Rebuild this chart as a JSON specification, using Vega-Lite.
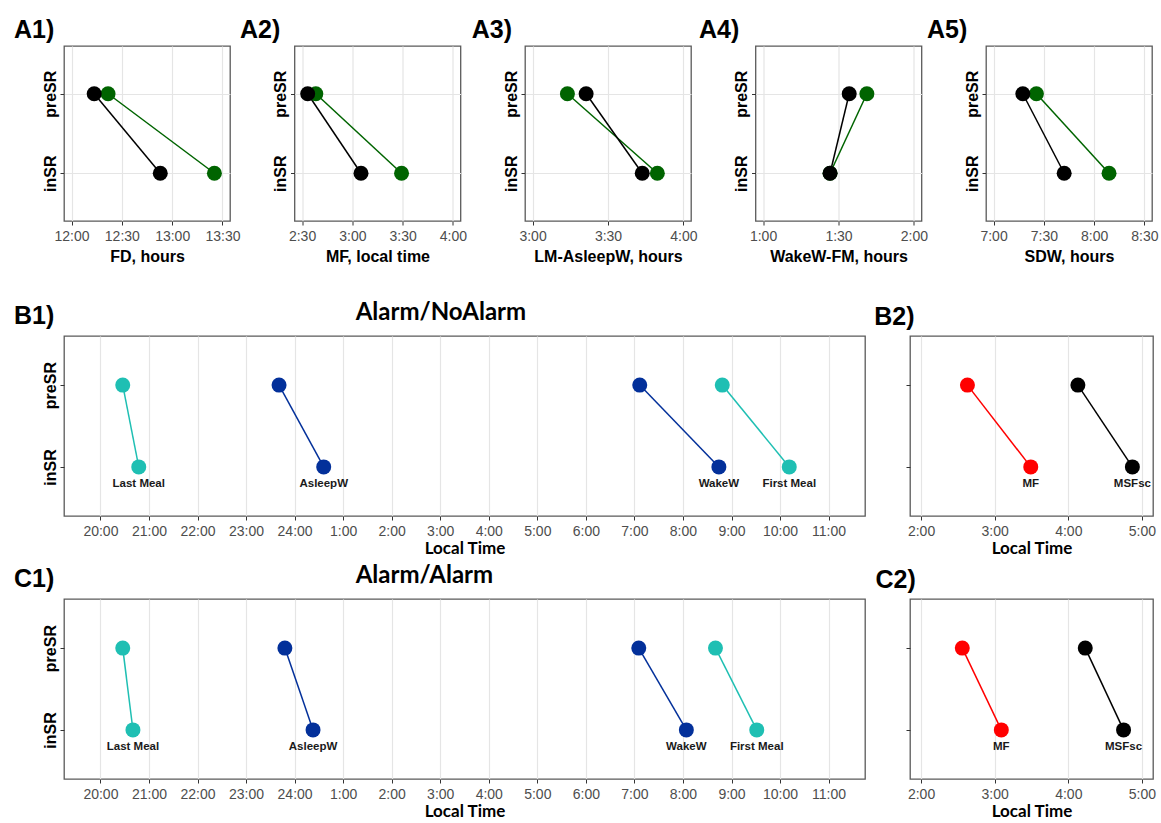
{
  "$schema": "https://vega.github.io/schema/vega-lite/v6.json",
  "padding": {"left": 13, "top": 17, "right": 0, "bottom": 0},
  "background": "white",
  "datasets": {
    "A1": [
      {"group": "Alarm/Alarm", "cond": "preSR", "t": 12.363},
      {"group": "Alarm/Alarm", "cond": "inSR", "t": 13.42},
      {"group": "Alarm/NoAlarm", "cond": "preSR", "t": 12.225},
      {"group": "Alarm/NoAlarm", "cond": "inSR", "t": 12.882}
    ],
    "A2": [
      {"group": "Alarm/Alarm", "cond": "preSR", "t": 2.637},
      {"group": "Alarm/Alarm", "cond": "inSR", "t": 3.489},
      {"group": "Alarm/NoAlarm", "cond": "preSR", "t": 2.556},
      {"group": "Alarm/NoAlarm", "cond": "inSR", "t": 3.086}
    ],
    "A3": [
      {"group": "Alarm/Alarm", "cond": "preSR", "t": 3.231},
      {"group": "Alarm/Alarm", "cond": "inSR", "t": 3.827},
      {"group": "Alarm/NoAlarm", "cond": "preSR", "t": 3.355},
      {"group": "Alarm/NoAlarm", "cond": "inSR", "t": 3.727}
    ],
    "A4": [
      {"group": "Alarm/Alarm", "cond": "preSR", "t": 1.688},
      {"group": "Alarm/Alarm", "cond": "inSR", "t": 1.444},
      {"group": "Alarm/NoAlarm", "cond": "preSR", "t": 1.571},
      {"group": "Alarm/NoAlarm", "cond": "inSR", "t": 1.444}
    ],
    "A5": [
      {"group": "Alarm/Alarm", "cond": "preSR", "t": 7.426},
      {"group": "Alarm/Alarm", "cond": "inSR", "t": 8.148},
      {"group": "Alarm/NoAlarm", "cond": "preSR", "t": 7.291},
      {"group": "Alarm/NoAlarm", "cond": "inSR", "t": 7.702}
    ],
    "B1": [
      {"group": "Last Meal", "cond": "preSR", "t": 20.46},
      {"group": "Last Meal", "cond": "inSR", "t": 20.79},
      {"group": "AsleepW", "cond": "preSR", "t": 23.68},
      {"group": "AsleepW", "cond": "inSR", "t": 24.6},
      {"group": "WakeW", "cond": "preSR", "t": 31.11},
      {"group": "WakeW", "cond": "inSR", "t": 32.74},
      {"group": "First Meal", "cond": "preSR", "t": 32.81},
      {"group": "First Meal", "cond": "inSR", "t": 34.19}
    ],
    "B2": [
      {"group": "MF", "cond": "preSR", "t": 2.63},
      {"group": "MF", "cond": "inSR", "t": 3.49},
      {"group": "MSFsc", "cond": "preSR", "t": 4.13},
      {"group": "MSFsc", "cond": "inSR", "t": 4.87}
    ],
    "C1": [
      {"group": "Last Meal", "cond": "preSR", "t": 20.46},
      {"group": "Last Meal", "cond": "inSR", "t": 20.67},
      {"group": "AsleepW", "cond": "preSR", "t": 23.8},
      {"group": "AsleepW", "cond": "inSR", "t": 24.38},
      {"group": "WakeW", "cond": "preSR", "t": 31.09},
      {"group": "WakeW", "cond": "inSR", "t": 32.07},
      {"group": "First Meal", "cond": "preSR", "t": 32.67},
      {"group": "First Meal", "cond": "inSR", "t": 33.52}
    ],
    "C2": [
      {"group": "MF", "cond": "preSR", "t": 2.56},
      {"group": "MF", "cond": "inSR", "t": 3.09},
      {"group": "MSFsc", "cond": "preSR", "t": 4.23},
      {"group": "MSFsc", "cond": "inSR", "t": 4.75}
    ]
  },
  "config": {
    "font": "Liberation Sans",
    "view": {"stroke": "#5a5a5a", "strokeWidth": 1.3},
    "axis": {
      "domain": false, "tickSize": 4, "tickColor": "#333333", "tickWidth": 1,
      "labelPadding": 4, "labelFont": "Liberation Sans", "labelFontSize": 14, "labelColor": "#4d4d4d",
      "gridColor": "#e5e5e5", "gridWidth": 1.2, "labelFlush": false, "labelOverlap": false,
      "titleFont": "Liberation Sans", "titleFontSize": 16, "titleFontWeight": "bold", "titleColor": "#000000", "titlePadding": 5
    },
    "axisY": {"labelAngle": -90, "labelAlign": "center", "labelBaseline": "bottom", "labelFontSize": 16, "labelFontWeight": "bold", "labelColor": "#000000", "labelPadding": 2},
    "title": {"font": "Liberation Sans", "fontSize": 25, "fontWeight": "bold", "color": "#000000", "anchor": "start", "frame": "group"},
    "line": {"strokeWidth": 1.5},
    "point": {"filled": true, "size": 225, "opacity": 1}
  },
  "spacing": 35,
  "vconcat": [
    {
      "bounds": "flush",
      "spacing": 64.5,
      "hconcat": [
        {
          "width": 166, "height": 175,
          "title": {"text": "A1)", "dx": -50, "offset": 3},
          "data": {"name": "A1"},
          "encoding": {
            "x": {"field": "t", "type": "quantitative", "scale": {"domain": [11.925, 13.575], "nice": false, "zero": false},
              "axis": {"values": [12, 12.5, 13, 13.5], "labelExpr": "floor(datum.value) + ':' + (datum.value % 1 == 0 ? '00' : '30')", "title": "FD, hours"}},
            "y": {"field": "cond", "type": "nominal", "scale": {"type": "point", "domain": ["preSR", "inSR"], "padding": 0.6}, "axis": {"grid": true, "title": null}},
            "color": {"field": "group", "type": "nominal", "legend": null, "scale": {"domain": ["Alarm/Alarm", "Alarm/NoAlarm", "Last Meal", "AsleepW", "WakeW", "First Meal", "MF", "MSFsc"], "range": ["#006400", "#000000", "#1fbfb3", "#03309a", "#03309a", "#1fbfb3", "#ff0000", "#000000"]}}
          },
          "layer": [{"mark": "line"}, {"mark": "point"}]
        },
        {
          "width": 166, "height": 175,
          "title": {"text": "A2)", "dx": -54.5, "offset": 3},
          "data": {"name": "A2"},
          "encoding": {
            "x": {"field": "t", "type": "quantitative", "scale": {"domain": [2.425, 4.075], "nice": false, "zero": false},
              "axis": {"values": [2.5, 3, 3.5, 4], "labelExpr": "floor(datum.value) + ':' + (datum.value % 1 == 0 ? '00' : '30')", "title": "MF, local time"}},
            "y": {"field": "cond", "type": "nominal", "scale": {"type": "point", "domain": ["preSR", "inSR"], "padding": 0.6}, "axis": {"grid": true, "title": null}},
            "color": {"field": "group", "type": "nominal", "legend": null, "scale": {"domain": ["Alarm/Alarm", "Alarm/NoAlarm", "Last Meal", "AsleepW", "WakeW", "First Meal", "MF", "MSFsc"], "range": ["#006400", "#000000", "#1fbfb3", "#03309a", "#03309a", "#1fbfb3", "#ff0000", "#000000"]}}
          },
          "layer": [{"mark": "line"}, {"mark": "point"}]
        },
        {
          "width": 166, "height": 175,
          "title": {"text": "A3)", "dx": -53.3, "offset": 3},
          "data": {"name": "A3"},
          "encoding": {
            "x": {"field": "t", "type": "quantitative", "scale": {"domain": [2.95, 4.05], "nice": false, "zero": false},
              "axis": {"values": [3, 3.5, 4], "labelExpr": "floor(datum.value) + ':' + (datum.value % 1 == 0 ? '00' : '30')", "title": "LM-AsleepW, hours"}},
            "y": {"field": "cond", "type": "nominal", "scale": {"type": "point", "domain": ["preSR", "inSR"], "padding": 0.6}, "axis": {"grid": true, "title": null}},
            "color": {"field": "group", "type": "nominal", "legend": null, "scale": {"domain": ["Alarm/Alarm", "Alarm/NoAlarm", "Last Meal", "AsleepW", "WakeW", "First Meal", "MF", "MSFsc"], "range": ["#006400", "#000000", "#1fbfb3", "#03309a", "#03309a", "#1fbfb3", "#ff0000", "#000000"]}}
          },
          "layer": [{"mark": "line"}, {"mark": "point"}]
        },
        {
          "width": 166, "height": 175,
          "title": {"text": "A4)", "dx": -56.5, "offset": 3},
          "data": {"name": "A4"},
          "encoding": {
            "x": {"field": "t", "type": "quantitative", "scale": {"domain": [0.95, 2.05], "nice": false, "zero": false},
              "axis": {"values": [1, 1.5, 2], "labelExpr": "floor(datum.value) + ':' + (datum.value % 1 == 0 ? '00' : '30')", "title": "WakeW-FM, hours"}},
            "y": {"field": "cond", "type": "nominal", "scale": {"type": "point", "domain": ["preSR", "inSR"], "padding": 0.6}, "axis": {"grid": true, "title": null}},
            "color": {"field": "group", "type": "nominal", "legend": null, "scale": {"domain": ["Alarm/Alarm", "Alarm/NoAlarm", "Last Meal", "AsleepW", "WakeW", "First Meal", "MF", "MSFsc"], "range": ["#006400", "#000000", "#1fbfb3", "#03309a", "#03309a", "#1fbfb3", "#ff0000", "#000000"]}}
          },
          "layer": [{"mark": "line"}, {"mark": "point"}]
        },
        {
          "width": 166, "height": 175,
          "title": {"text": "A5)", "dx": -59, "offset": 3},
          "data": {"name": "A5"},
          "encoding": {
            "x": {"field": "t", "type": "quantitative", "scale": {"domain": [6.925, 8.575], "nice": false, "zero": false},
              "axis": {"values": [7, 7.5, 8, 8.5], "labelExpr": "floor(datum.value) + ':' + (datum.value % 1 == 0 ? '00' : '30')", "title": "SDW, hours"}},
            "y": {"field": "cond", "type": "nominal", "scale": {"type": "point", "domain": ["preSR", "inSR"], "padding": 0.6}, "axis": {"grid": true, "title": null}},
            "color": {"field": "group", "type": "nominal", "legend": null, "scale": {"domain": ["Alarm/Alarm", "Alarm/NoAlarm", "Last Meal", "AsleepW", "WakeW", "First Meal", "MF", "MSFsc"], "range": ["#006400", "#000000", "#1fbfb3", "#03309a", "#03309a", "#1fbfb3", "#ff0000", "#000000"]}}
          },
          "layer": [{"mark": "line"}, {"mark": "point"}]
        }
      ]
    },
    {
      "spacing": 5,
      "vconcat": [
        {
          "title": {"text": "B1)", "dx": -50, "dy": 29, "offset": 0},
          "bounds": "flush",
          "spacing": 45,
          "hconcat": [
            {
              "width": 801, "height": 180,
              "title": {"text": "Alarm/NoAlarm", "font": "Lato", "fontSize": 24, "dx": 291.7, "offset": 11},
              "data": {"name": "B1"},
              "encoding": {
                "x": {"field": "t", "type": "quantitative", "scale": {"domain": [19.25, 35.75], "nice": false, "zero": false},
                  "axis": {"values": [20, 21, 22, 23, 24, 25, 26, 27, 28, 29, 30, 31, 32, 33, 34, 35], "labelExpr": "(datum.value == 24 ? 24 : datum.value % 24) + ':00'", "title": "Local Time", "titleFont": "Lato", "titleFontSize": 17, "titlePadding": 2.5}},
                "y": {"field": "cond", "type": "nominal", "scale": {"type": "point", "domain": ["preSR", "inSR"], "padding": 0.6}, "axis": {"grid": false, "title": null}},
                "color": {"field": "group", "type": "nominal", "legend": null, "scale": {"domain": ["Alarm/Alarm", "Alarm/NoAlarm", "Last Meal", "AsleepW", "WakeW", "First Meal", "MF", "MSFsc"], "range": ["#006400", "#000000", "#1fbfb3", "#03309a", "#03309a", "#1fbfb3", "#ff0000", "#000000"]}}
              },
              "layer": [
                {"mark": "line"},
                {"mark": "point"},
                {"transform": [{"filter": "datum.cond == 'inSR'"}], "mark": {"type": "text", "dy": 17, "font": "Liberation Sans", "fontSize": 11.5, "fontWeight": "bold"}, "encoding": {"text": {"field": "group"}, "color": {"value": "#1a1a1a"}}}
              ]
            },
            {
              "width": 243, "height": 180,
              "title": {"text": "B2)", "dx": -35.7, "offset": 6},
              "data": {"name": "B2"},
              "encoding": {
                "x": {"field": "t", "type": "quantitative", "scale": {"domain": [1.85, 5.15], "nice": false, "zero": false},
                  "axis": {"values": [2, 3, 4, 5], "labelExpr": "datum.value + ':00'", "title": "Local Time", "titleFont": "Lato", "titleFontSize": 17, "titlePadding": 2.5}},
                "y": {"field": "cond", "type": "nominal", "scale": {"type": "point", "domain": ["preSR", "inSR"], "padding": 0.6}, "axis": {"grid": false, "labels": false, "title": null}},
                "color": {"field": "group", "type": "nominal", "legend": null, "scale": {"domain": ["Alarm/Alarm", "Alarm/NoAlarm", "Last Meal", "AsleepW", "WakeW", "First Meal", "MF", "MSFsc"], "range": ["#006400", "#000000", "#1fbfb3", "#03309a", "#03309a", "#1fbfb3", "#ff0000", "#000000"]}}
              },
              "layer": [
                {"mark": "line"},
                {"mark": "point"},
                {"transform": [{"filter": "datum.cond == 'inSR'"}], "mark": {"type": "text", "dy": 17, "font": "Liberation Sans", "fontSize": 11.5, "fontWeight": "bold"}, "encoding": {"text": {"field": "group"}, "color": {"value": "#1a1a1a"}}}
              ]
            }
          ]
        },
        {
          "title": {"text": "C1)", "dx": -50, "dy": 29, "offset": 0},
          "bounds": "flush",
          "spacing": 45,
          "hconcat": [
            {
              "width": 801, "height": 180,
              "title": {"text": "Alarm/Alarm", "font": "Lato", "fontSize": 24, "dx": 291.7, "offset": 11},
              "data": {"name": "C1"},
              "encoding": {
                "x": {"field": "t", "type": "quantitative", "scale": {"domain": [19.25, 35.75], "nice": false, "zero": false},
                  "axis": {"values": [20, 21, 22, 23, 24, 25, 26, 27, 28, 29, 30, 31, 32, 33, 34, 35], "labelExpr": "(datum.value == 24 ? 24 : datum.value % 24) + ':00'", "title": "Local Time", "titleFont": "Lato", "titleFontSize": 17, "titlePadding": 2.5}},
                "y": {"field": "cond", "type": "nominal", "scale": {"type": "point", "domain": ["preSR", "inSR"], "padding": 0.6}, "axis": {"grid": false, "title": null}},
                "color": {"field": "group", "type": "nominal", "legend": null, "scale": {"domain": ["Alarm/Alarm", "Alarm/NoAlarm", "Last Meal", "AsleepW", "WakeW", "First Meal", "MF", "MSFsc"], "range": ["#006400", "#000000", "#1fbfb3", "#03309a", "#03309a", "#1fbfb3", "#ff0000", "#000000"]}}
              },
              "layer": [
                {"mark": "line"},
                {"mark": "point"},
                {"transform": [{"filter": "datum.cond == 'inSR'"}], "mark": {"type": "text", "dy": 17, "font": "Liberation Sans", "fontSize": 11.5, "fontWeight": "bold"}, "encoding": {"text": {"field": "group"}, "color": {"value": "#1a1a1a"}}}
              ]
            },
            {
              "width": 243, "height": 180,
              "title": {"text": "C2)", "dx": -34.5, "offset": 6},
              "data": {"name": "C2"},
              "encoding": {
                "x": {"field": "t", "type": "quantitative", "scale": {"domain": [1.85, 5.15], "nice": false, "zero": false},
                  "axis": {"values": [2, 3, 4, 5], "labelExpr": "datum.value + ':00'", "title": "Local Time", "titleFont": "Lato", "titleFontSize": 17, "titlePadding": 2.5}},
                "y": {"field": "cond", "type": "nominal", "scale": {"type": "point", "domain": ["preSR", "inSR"], "padding": 0.6}, "axis": {"grid": false, "labels": false, "title": null}},
                "color": {"field": "group", "type": "nominal", "legend": null, "scale": {"domain": ["Alarm/Alarm", "Alarm/NoAlarm", "Last Meal", "AsleepW", "WakeW", "First Meal", "MF", "MSFsc"], "range": ["#006400", "#000000", "#1fbfb3", "#03309a", "#03309a", "#1fbfb3", "#ff0000", "#000000"]}}
              },
              "layer": [
                {"mark": "line"},
                {"mark": "point"},
                {"transform": [{"filter": "datum.cond == 'inSR'"}], "mark": {"type": "text", "dy": 17, "font": "Liberation Sans", "fontSize": 11.5, "fontWeight": "bold"}, "encoding": {"text": {"field": "group"}, "color": {"value": "#1a1a1a"}}}
              ]
            }
          ]
        }
      ]
    }
  ]
}
